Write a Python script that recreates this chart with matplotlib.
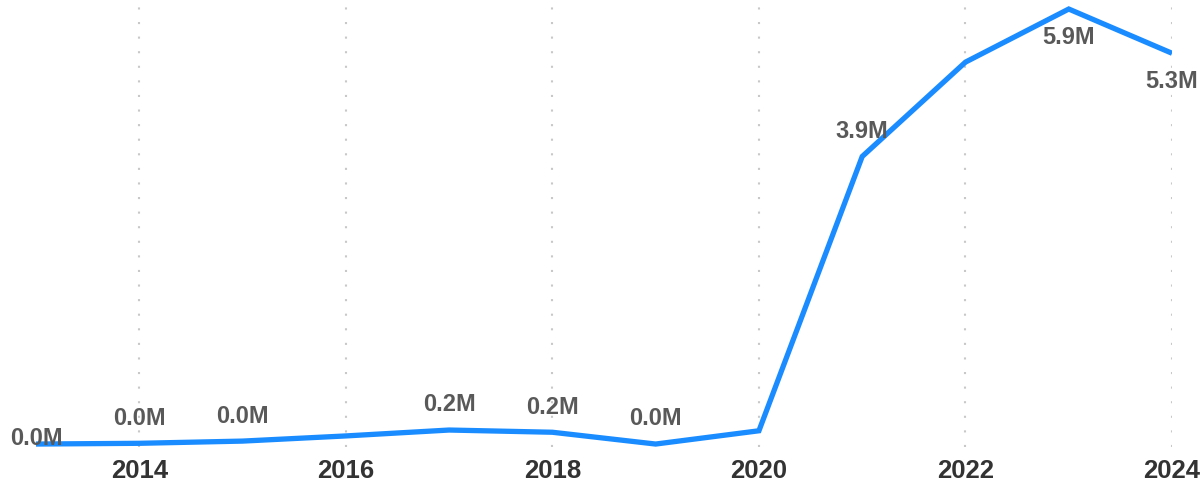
import matplotlib
matplotlib.use("Agg")
import matplotlib.pyplot as plt

years = [2013, 2014, 2015, 2016, 2017, 2018, 2019, 2020, 2021, 2022, 2023, 2024]
values = [0.0, 0.01, 0.04, 0.11, 0.19, 0.16, 0.0, 0.18, 3.9, 5.18, 5.9, 5.3]
# which points carry a label, and where it sits
label_pos = {2013: "center", 2014: "above", 2015: "above", 2017: "above",
             2018: "above", 2019: "above", 2021: "above", 2023: "below", 2024: "below"}
tick_years = [2014, 2016, 2018, 2020, 2022, 2024]

fig = plt.figure(figsize=(12, 4.85), dpi=100)
ax = fig.add_axes([0.03, 0.0763, 0.9467, 0.9237])

ax.plot(years, values, color="#1a8cff", linewidth=3.8, solid_joinstyle="miter",
        solid_capstyle="butt", zorder=3)

for yr, v in zip(years, values):
    if yr not in label_pos:
        continue
    pos = label_pos[yr]
    if pos == "above":
        off, va = 10.5, "bottom"
    elif pos == "below":
        off, va = -11.5, "top"
    else:
        off, va = 5, "center"
    ax.annotate(f"{v:.1f}M", (yr, v), xytext=(0, off), textcoords="offset points",
                ha="center", va=va, fontsize=17, fontweight="bold",
                color="#595959", family="Liberation Sans", zorder=4)

ax.set_xlim(2013, 2024)
ax.set_ylim(-0.04, 6.036)
ax.set_xticks(tick_years)
ax.set_xticklabels([str(t) for t in tick_years], fontsize=18.5, fontweight="bold",
                   color="#333333", family="Liberation Sans")
ax.tick_params(axis="x", length=0, pad=8)
ax.set_yticks([])
ax.grid(axis="x", color="#c8c8c8", linestyle=(0, (1, 6)), linewidth=1.5)
for s in ax.spines.values():
    s.set_visible(False)

fig.savefig("out.png", dpi=100)
